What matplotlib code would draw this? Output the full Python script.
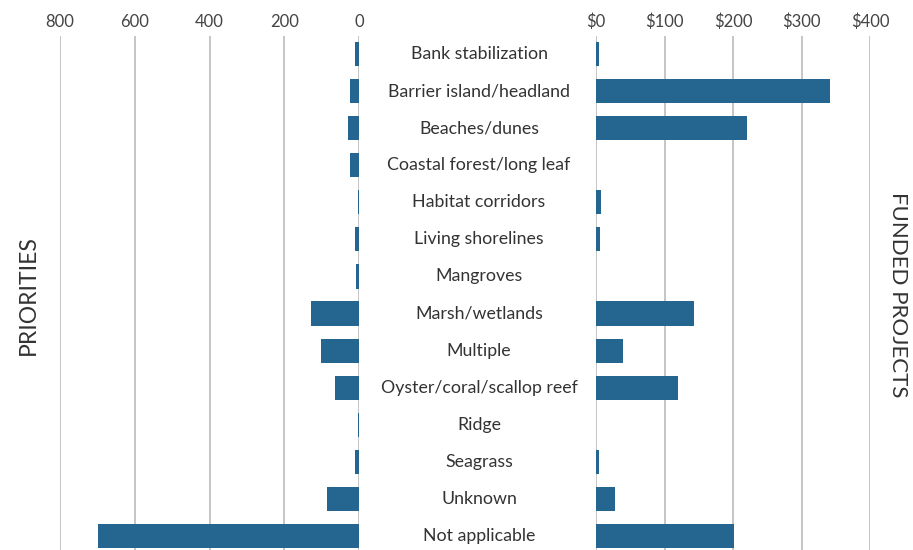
import matplotlib.pyplot as plt
import matplotlib.transforms as mtransforms

categories = ['Bank stabilization', 'Barrier island/headland', 'Beaches/dunes',
              'Coastal forest/long leaf', 'Habitat corridors', 'Living shorelines',
              'Mangroves', 'Marsh/wetlands', 'Multiple', 'Oyster/coral/scallop reef',
              'Ridge', 'Seagrass', 'Unknown', 'Not applicable']
priorities = [11, 23, 30, 23, 2, 11, 8, 128, 102, 64, 2, 11, 86, 698]
funded = [4, 342, 221, 0, 7, 6, 0, 143, 40, 119, 0, 5, 28, 201]

left_ticks = [0, 200, 400, 600, 800]
right_ticks = [0, 100, 200, 300, 400]
right_labels = ['$0', '$100', '$200', '$300', '$400']

plt.rcParams['font.family'] = ['Lato', 'DejaVu Sans']
bar_color = '#256690'
grid_color = '#b5b5b5'
text_color = '#333333'

W, H = 913, 550
fig = plt.figure(figsize=(W / 100, H / 100), dpi=100)

top = 35.5
bottom = 554.5
ax_l = fig.add_axes([60 / W, 1 - bottom / H, (359 - 60) / W, (bottom - top) / H])
ax_r = fig.add_axes([596 / W, 1 - bottom / H, (870 - 596) / W, (bottom - top) / H])

y = list(range(len(categories)))

ax_l.barh(y, priorities, height=0.65, color=bar_color, zorder=3)
ax_l.set_xlim(800, 0)
ax_l.set_xticks(left_ticks)
ax_l.set_xticklabels([str(t) for t in left_ticks])

ax_r.barh(y, funded, height=0.65, color=bar_color, zorder=3)
ax_r.set_xlim(0, 400)
ax_r.set_xticks(right_ticks)
ax_r.set_xticklabels(right_labels)

for ax in (ax_l, ax_r):
    ax.set_ylim(len(categories) - 0.5, -0.5)
    ax.set_yticks([])
    for s in ax.spines.values():
        s.set_visible(False)
    ax.xaxis.tick_top()
    ax.tick_params(axis='x', length=0, pad=4, labelsize=12, labelcolor='#444444')
    ax.grid(axis='x', color=grid_color, linewidth=1.1, zorder=0)
    ax.set_axisbelow(True)

trans = mtransforms.blended_transform_factory(fig.transFigure, ax_l.transData)
for i, name in enumerate(categories):
    ax_l.text(479 / W, i, name, transform=trans, ha='center', va='center',
              fontsize=12.8, color=text_color, clip_on=False)

fig.text(28 / W, 1 - 295 / H, 'PRIORITIES', rotation=90, ha='center', va='center',
         fontsize=16.5, color=text_color)
fig.text(898 / W, 1 - 295 / H, 'FUNDED PROJECTS', rotation=-90, ha='center', va='center',
         fontsize=16, color=text_color)

fig.savefig('out.png', dpi=100)
